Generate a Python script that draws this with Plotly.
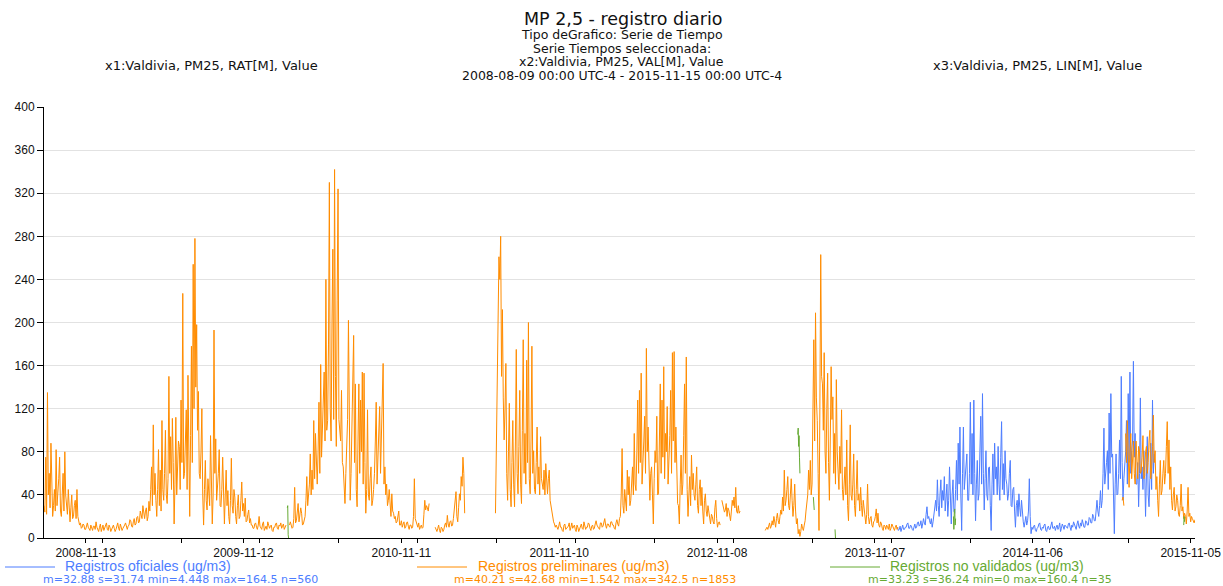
import datetime as dt
import plotly.graph_objects as go

# ---------------- data (ug/m3) ----------------
STEP = 2  # days between stored samples of the orange / blue series

# Registros preliminares (orange)
pre_start_1 = "2008-08-09"
pre_vals_1 = [30, 24, 75, 22, 135, 40, 60, 28, 88, 35, 20, 30, 45, 25, 82, 30, 40, 55, 75, 25, 20, 35, 60, 25, 80, 40,
              30, 22, 45, 20, 15, 28, 40, 18, 20, 30, 35, 18, 45, 20, 15, 12, 14, 9, 10, 13, 12, 8, 8, 11,
              14, 10, 9, 7, 12, 9, 7, 11, 11, 8, 15, 10, 8, 6, 10, 13, 6, 9, 12, 7, 9, 11, 14, 8, 7, 12, 10, 6,
              8, 10, 12, 9, 6, 8, 11, 14, 9, 7, 13, 10, 7, 9, 10, 12, 14, 9, 8, 11, 12, 17, 16, 11, 10, 15,
              18, 12, 13, 19, 20, 14, 15, 25,
              22, 18, 30, 20, 18, 25, 28, 16, 20, 34, 25, 45, 66, 30,
              105, 40, 60, 35, 20, 45, 82, 30, 63, 25, 109, 45, 35, 60, 100, 40, 32, 55, 150, 60, 94, 45,
              111, 70, 13, 50, 112, 40, 63, 90, 85, 45, 128, 70, 227, 55, 60, 90, 119, 45, 151, 80, 20, 95,
              178, 70, 254, 120, 278, 140, 198, 100, 136, 60, 55, 80, 120, 40, 12, 45, 72, 35, 26, 55, 44, 30,
              95, 50, 13, 40, 193, 60, 92, 35, 44, 60, 82, 30, 29, 45, 75, 25, 13, 40, 63, 30, 44, 20, 13, 35,
              74, 30, 23, 45, 38, 20, 13, 30, 40, 18, 20, 35, 52, 25, 32, 20, 37, 15, 16, 22, 26, 14, 18, 12,
              12, 9, 9, 13, 14, 10, 8, 12, 20, 11, 10, 8, 13, 15, 7, 10, 11, 8, 15, 12, 9, 11, 12, 7, 6, 10,
              10, 13, 14, 9, 8, 12, 11, 14, 9, 11, 13, 8, 10, 12]
pre_start_2 = "2010-02-26"
pre_vals_2 = [12, 15, 12, 9, 10, 18, 47, 14, 16, 25, 32, 15, 20, 28, 23, 12, 13, 18, 20, 35, 57, 30, 38, 50, 78, 40,
              63, 45, 109, 55, 97, 65, 50, 80, 126, 60, 161, 75, 97, 120, 154, 90, 240, 100, 109, 180, 330, 120,
              90, 200, 268, 110, 342, 150, 85, 220, 324, 110, 97, 90, 137, 70, 66, 45, 32, 60, 81, 110, 202, 80,
              35, 60, 97, 140, 188, 70, 143, 45, 29, 90, 143, 60, 128, 80, 154, 50, 153, 70, 23, 45, 119, 40,
              35, 55, 66, 30, 35, 45, 60, 90, 126, 50, 78, 95, 122, 60, 94, 110, 162, 50, 66, 40, 50, 30, 35, 45,
              29, 20, 41, 25, 23, 18, 20, 14, 15, 20, 25, 12, 12, 16, 10, 13, 15, 9, 10, 14, 15, 11, 8, 12,
              12, 9, 10, 20, 55, 18, 15, 11, 10, 14, 8, 10, 12, 9, 10, 22, 35, 26, 30, 28, 25, 32]
pre_start_3 = "2011-01-28"
pre_vals_3 = [10, 8, 6, 9, 12, 7, 5, 10, 9, 6, 8, 12, 14, 10, 21, 13, 10, 15, 16, 11, 12, 18, 25, 30, 43, 20,
              15, 28, 41, 35, 57, 48, 75, 60, 23]
pre_start_4 = "2011-06-16"
pre_vals_4 = [23, 88, 150, 200, 261, 240, 280, 150, 212, 130, 91, 120, 162, 60, 35, 80, 125, 45, 29, 70, 109, 50,
              29, 90, 175, 60, 41, 85, 137, 50, 32, 100, 184, 60, 97, 50, 165, 70, 200, 55, 41, 90, 178, 60,
              81, 45, 41, 70, 103, 50, 66, 40, 94, 55, 50, 45, 63, 40, 69, 50, 41, 55, 63, 35, 29, 25, 20, 15,
              13, 10,
              12, 9, 8, 11, 15, 10, 10, 7, 6, 12, 13, 8, 9, 11, 11, 14, 7, 10, 14, 9, 10, 12, 8, 6, 12, 10,
              6, 9, 11, 13, 9, 8, 15, 11, 8, 10, 10, 14, 13, 9, 7, 11, 12, 8, 9, 13, 16, 12, 10, 9, 8, 14,
              14, 10, 11, 16, 18, 12, 9, 13, 13, 11, 10, 15, 15, 12, 12, 9, 8, 14, 17, 13, 11, 18, 20, 40,
              83, 30, 23, 45, 35, 25, 63, 40, 57, 30, 35, 55, 66, 40, 97, 50, 44, 80, 128, 60, 137, 70, 153, 50,
              66, 90, 113, 60, 176, 80, 103, 45, 35, 60, 66, 40, 13, 55, 81, 70, 113, 40, 41, 90, 143, 60,
              128, 75, 159, 55, 97, 80, 122, 50, 66, 95, 137, 60, 172, 90, 173, 70, 103, 45, 32, 30, 13, 50,
              77, 40, 50, 95, 143, 60, 168, 45, 20, 40, 57, 30, 77, 45, 60, 40, 35, 50, 66, 30, 23, 45, 54, 30,
              47, 25, 13, 35, 41, 25, 20, 30, 23, 15, 13, 22, 20, 15, 13, 28, 35, 18, 10, 14, 15, 12]
pre_start_5 = "2012-11-19"
pre_vals_5 = [35, 30, 29, 24, 26, 32, 20, 28, 26, 22, 16, 25, 35, 30, 38, 28, 47, 25, 23, 30, 23, 25]
pre_start_6 = "2013-02-27"
pre_vals_6 = [7, 9, 10, 8, 12, 14, 9, 11, 16, 12, 20, 15, 10, 18, 23, 16, 13, 20, 26, 22,
              38, 25, 63, 30, 35, 45, 57, 30, 26, 40, 55, 35, 20, 30, 50, 25, 13, 18, 4, 8,
              1.5, 6, 13, 9, 7, 12, 16, 25, 35, 40, 63, 45, 72, 40, 50, 110, 184, 90, 209, 130,
              109, 60, 7, 120, 263, 150, 143, 100, 172, 80, 60, 120, 153, 70, 35, 90, 159, 110, 131, 60,
              97, 50, 147, 80, 66, 45, 85, 60, 119, 45, 35, 55, 66, 40, 91, 30, 16, 50, 105, 40,
              35, 50, 78, 30, 20, 45, 72, 35, 41, 25, 47, 30, 20, 35, 29, 18, 13, 22, 50, 20,
              13, 18, 20, 12, 10, 15, 16, 20, 27, 14, 23, 12, 10, 15, 13, 9, 7, 12, 11, 8,
              12, 10, 8, 13, 7, 9, 13, 11, 9, 7, 10, 12, 8, 10]
pre_start_7 = "2015-05-31"
pre_vals_7 = [35, 38, 30]
pre_start_8 = "2015-06-08"
pre_vals_8 = [97, 70, 109, 60, 47, 80, 97, 55, 75, 90, 60, 50, 90, 70, 55, 85, 80, 60, 62, 75, 95, 55, 58, 80,
              85, 60, 70, 90, 100, 55, 65, 85, 114, 70, 81, 45, 57, 35, 20, 50, 72, 40, 44, 60, 72, 50, 60, 85,
              108, 60, 91, 45, 66, 35, 26, 40, 47, 25, 29, 40, 35, 22, 20, 30, 50, 25, 29, 18, 23, 20, 13, 25,
              47, 20, 23, 15, 20, 18, 16, 14, 17]

# Registros oficiales (blue)
ofi_start_1 = "2013-12-29"
ofi_vals_1 = [10, 7, 8, 11, 6, 9, 12, 8, 8, 10, 10, 13, 14, 9, 9, 12, 11, 8, 7, 10, 13, 9, 10, 14, 15, 11, 12, 16,
              9, 13, 18, 14, 12, 22, 29, 18,
              20, 16, 13, 18, 10, 15, 23, 30, 35, 25, 54, 30, 20, 40, 54, 28, 44, 35, 57, 25, 41, 50, 20, 35,
              66, 30, 13, 40, 54, 25, 23, 45, 72, 35, 88, 50, 103, 40, 7, 60, 103, 45, 54, 70, 78, 35, 35, 60,
              126, 50, 97, 40, 128, 60, 16, 50, 72, 35, 41, 80, 113, 50, 134, 60, 26, 55, 81, 40, 35, 65,
              66, 30, 7, 50, 78, 40, 88, 55, 66, 40, 85, 50, 35, 75, 108, 45, 69, 40, 81, 55, 50, 35, 41, 60,
              72, 30, 29, 45, 47, 25, 10, 30, 35, 20, 41, 28, 20, 35, 23, 15, 10, 18, 20, 12, 16, 25, 55, 20,
              4, 10,
              8, 11, 12, 7, 6, 9, 10, 13, 14, 8, 7, 10, 9, 12, 13, 7, 6, 10, 11, 8, 8, 12, 15, 9, 9, 11, 7, 10,
              12, 8, 10, 14, 6, 9, 13, 11, 8, 12, 11, 9, 9, 13, 14, 10, 7, 12, 10, 15, 12, 9, 8, 13, 16, 11,
              9, 14, 11, 17, 13, 10, 10, 16, 15, 12, 12, 19, 18, 14, 14, 22, 20, 16, 16, 28,
              35, 25, 20, 30, 44, 28, 35, 60, 102, 50, 57, 70, 81, 45, 116, 60, 134, 75, 78, 40, 4, 50,
              78, 40, 41, 60, 91, 55, 150, 70, 35, 55, 66, 80, 109, 50, 134, 70, 154, 60, 81, 90, 164, 75,
              97, 50, 50, 70, 29, 60, 130, 55, 66, 45, 81, 60, 20, 50, 94, 40, 29, 55, 88, 45, 128, 60, 78]

# Registros no validados (green), daily values
nov_start_1 = "2010-02-21"
nov_vals_1 = [28, 30, 3, 0]
nov_start_2 = "2013-05-13"
nov_vals_2 = [96, 102, 85, 95, 75, 60]
nov_start_3 = "2013-06-18"
nov_vals_3 = [38, 30, 26]
nov_start_4 = "2013-08-07"
nov_vals_4 = [8, 0]
nov_start_5 = "2014-05-07"
nov_vals_5 = [20, 8, 25, 27, 12, 18]
nov_start_6 = "2015-10-20"
nov_vals_6 = [12, 20, 15]

# texts
title_text = "MP 2,5 - registro diario"
sub_lines = ["Tipo deGrafico: Serie de Tiempo", "Serie Tiempos seleccionada:",
             "x2:Valdivia, PM25, VAL[M], Value", "2008-08-09 00:00 UTC-4 - 2015-11-15 00:00 UTC-4"]
x1_text = "x1:Valdivia, PM25, RAT[M], Value"
x3_text = "x3:Valdivia, PM25, LIN[M], Value"
legend_names = ["Registros oficiales (ug/m3)", "Registros preliminares (ug/m3)", "Registros no validados (ug/m3)"]
legend_stats = ["m=32.88 s=31.74 min=4.448 max=164.5 n=560",
                "m=40.21 s=42.68 min=1.542 max=342.5 n=1853",
                "m=33.23 s=36.24 min=0 max=160.4 n=35"]
x_range = ["2008-08-09", "2015-11-15"]
first_tick = "2008-11-13"

# ---------------- build ----------------
BLUE, ORANGE, GREEN = "#4d7dff", "#ff8c00", "#66aa33"
FONT = "Liberation Sans, Arial, sans-serif"
FONT_WIDE = "DejaVu Sans, Liberation Sans, sans-serif"


def build(segments, step):
    xs, ys = [], []
    for start, vals in segments:
        d0 = dt.date.fromisoformat(start)
        for i, v in enumerate(vals):
            xs.append((d0 + dt.timedelta(days=step * i)).isoformat())
            ys.append(v)
        xs.append(None)
        ys.append(None)
    return xs, ys


ox, oy = build([(ofi_start_1, ofi_vals_1)], STEP)
px_, py_ = build([(pre_start_1, pre_vals_1), (pre_start_2, pre_vals_2), (pre_start_3, pre_vals_3),
                  (pre_start_4, pre_vals_4), (pre_start_5, pre_vals_5), (pre_start_6, pre_vals_6),
                  (pre_start_7, pre_vals_7), (pre_start_8, pre_vals_8)], STEP)
nx, ny = build([(nov_start_1, nov_vals_1), (nov_start_2, nov_vals_2), (nov_start_3, nov_vals_3),
                (nov_start_4, nov_vals_4), (nov_start_5, nov_vals_5), (nov_start_6, nov_vals_6)], 1)

fig = go.Figure()
fig.add_trace(go.Scatter(x=ox, y=oy, mode="lines", line=dict(color=BLUE, width=1), name=legend_names[0]))
fig.add_trace(go.Scatter(x=px_, y=py_, mode="lines", line=dict(color=ORANGE, width=1), name=legend_names[1]))
fig.add_trace(go.Scatter(x=nx, y=ny, mode="lines", line=dict(color=GREEN, width=1), name=legend_names[2]))

W, H = 1223, 586
L, R, T, B = 44, 28, 107, 48
PW, PH = W - L - R, H - T - B


def pxx(x):
    return (x - L) / PW


def pxy(y):
    return (H - B - y) / PH


ann = []


def text(x, y, s, size, color="#111", anchor="center", family=FONT):
    ann.append(dict(x=pxx(x), y=pxy(y), xref="paper", yref="paper", text=s, showarrow=False,
                    xanchor=anchor, yanchor="middle", borderpad=0,
                    font=dict(size=size, color=color, family=family)))


text(623, 19, title_text, 17.5, family=FONT_WIDE)
for s, yy in zip(sub_lines, [34.5, 48, 61.5, 75]):
    text(622, yy, s, 12.5, family=FONT_WIDE)
text(211.5, 66, x1_text, 13, family=FONT_WIDE)
text(1037.5, 66, x3_text, 13, family=FONT_WIDE)

shapes = []
leg = [(5, 64, 42, BLUE), (417, 477, 453, ORANGE), (830, 889, 867, GREEN)]
for (lx, tx, sx, col), name, st in zip(leg, legend_names, legend_stats):
    shapes.append(dict(type="line", xref="paper", yref="paper", x0=pxx(lx), x1=pxx(lx + 50),
                       y0=pxy(567), y1=pxy(567), line=dict(color=col, width=1)))
    text(tx, 565.5, name, 14, col, "left")
    text(sx, 579, st, 11, col, "left", FONT_WIDE)

fig.update_layout(
    width=W, height=H, margin=dict(l=L, r=R, t=T, b=B, autoexpand=False),
    paper_bgcolor="white", plot_bgcolor="white", showlegend=False,
    font=dict(family=FONT, size=12, color="#111"),
    annotations=ann, shapes=shapes,
    xaxis=dict(type="date", range=x_range, tick0=first_tick, dtick=364 * 86400000,
               tickformat="%Y-%m-%d", ticks="outside", ticklen=4, tickcolor="#000",
               showline=True, linecolor="#000", linewidth=1, showgrid=False, zeroline=False,
               tickfont=dict(size=12, color="#111"),
               minor=dict(ticks="outside", ticklen=4, tickcolor="#000",
                          dtick=182 * 86400000, showgrid=False)),
    yaxis=dict(range=[0, 400], tick0=0, dtick=40, ticks="outside", ticklen=6, tickcolor="#000",
               showline=True, linecolor="#000", linewidth=1, gridcolor="#e2e2e2", zeroline=False,
               tickfont=dict(size=12, color="#111")),
)

fig.write_html("out.html", config={"displayModeBar": False},
               post_script="document.body.style.margin='0px';")
